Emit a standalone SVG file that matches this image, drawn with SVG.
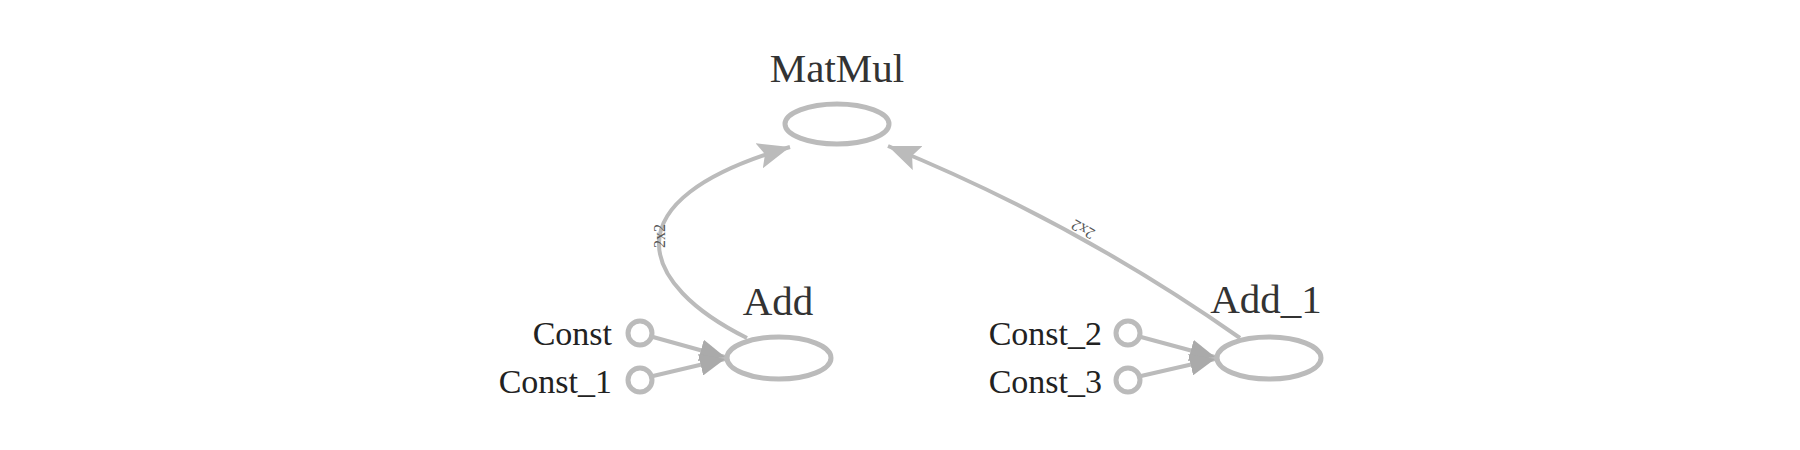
<svg xmlns="http://www.w3.org/2000/svg" width="1800" height="450" viewBox="0 0 1800 450">
<defs>
<style>
.node{fill:#fff;stroke:#bbb;stroke-width:5}
.big{font-family:"Liberation Serif",serif;font-size:41px;fill:#333}
.cl{font-family:"Liberation Serif",serif;font-size:34px;fill:#222;text-anchor:end}
.edge{fill:none;stroke:#bbb;stroke-width:4}
.el{font-family:"Liberation Serif",serif;font-size:16px;fill:#555;text-anchor:middle}
</style>
<marker id="ah" markerUnits="userSpaceOnUse" markerWidth="34" markerHeight="26" refX="32" refY="13" orient="auto">
<path d="M0,0 L32,13 L0,26 L6,13 z" fill="#bbb"/>
</marker>
<marker id="ac" markerUnits="userSpaceOnUse" markerWidth="26" markerHeight="22" refX="25" refY="11" orient="auto">
<path d="M0,0 L25,11 L0,22 z" fill="#aaa"/>
</marker>
</defs>
<rect width="1800" height="450" fill="#fff"/>
<g id="connectors">
<path class="edge" d="M747,338 C640,285 605,200 790,147" marker-end="url(#ah)"/>
<path class="edge" d="M1240,338 Q1075,222 888,146" marker-end="url(#ah)"/>
<line class="edge" x1="653" y1="337" x2="725" y2="357" marker-end="url(#ac)"/>
<line class="edge" x1="653" y1="376" x2="725" y2="359" marker-end="url(#ac)"/>
<line class="edge" x1="1141" y1="337" x2="1215" y2="357" marker-end="url(#ac)"/>
<line class="edge" x1="1141" y1="376" x2="1215" y2="359" marker-end="url(#ac)"/>
<text class="el" transform="translate(660,236) rotate(-90)" dy="5">2x2</text>
<text class="el" transform="translate(1083,229) rotate(209)" dy="5">2x2</text>
</g>
<g id="MatMul">
<ellipse class="node" cx="837" cy="124" rx="52" ry="20"/>
<text class="big" x="837" y="82" text-anchor="middle">MatMul</text>
</g>
<g id="Add">
<ellipse class="node" cx="779" cy="358" rx="52" ry="21"/>
<text class="big" x="778" y="315" text-anchor="middle">Add</text>
</g>
<g id="Add_1">
<ellipse class="node" cx="1269" cy="358" rx="52" ry="21"/>
<text class="big" x="1266" y="313" text-anchor="middle">Add_1</text>
</g>
<g id="Const">
<circle class="node" cx="640" cy="333" r="12"/>
<text class="cl" x="612" y="345">Const</text>
</g>
<g id="Const_1">
<circle class="node" cx="640" cy="380" r="12"/>
<text class="cl" x="612" y="393">Const_1</text>
</g>
<g id="Const_2">
<circle class="node" cx="1128" cy="333" r="12"/>
<text class="cl" x="1102" y="345">Const_2</text>
</g>
<g id="Const_3">
<circle class="node" cx="1128" cy="380" r="12"/>
<text class="cl" x="1102" y="393">Const_3</text>
</g>
</svg>
